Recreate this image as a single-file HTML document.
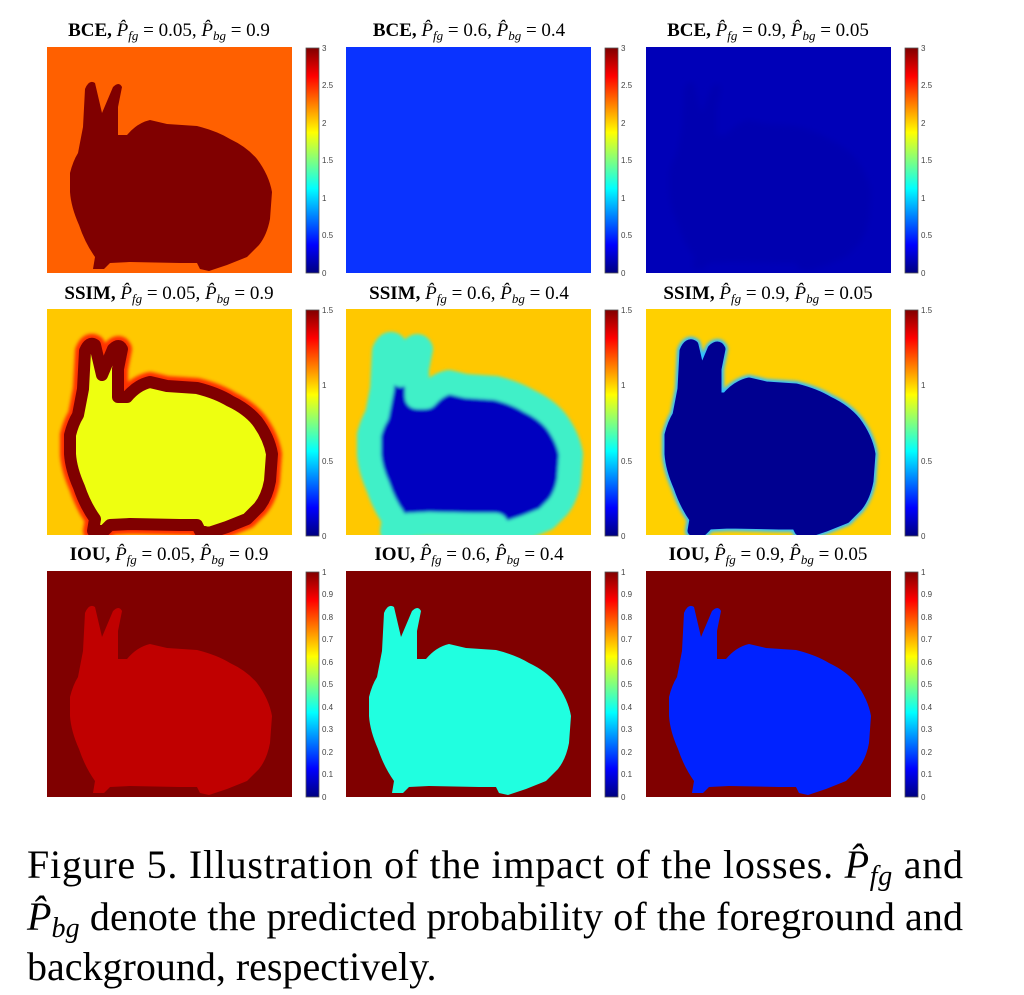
<!DOCTYPE html>
<html><head><meta charset="utf-8"><style>html,body{margin:0;padding:0;background:#fff}svg{display:block}</style></head>
<body>
<svg width="1024" height="995" viewBox="0 0 1024 995" xmlns="http://www.w3.org/2000/svg" font-family="'Liberation Serif',serif">
<defs>
<linearGradient id="jet" x1="0" y1="1" x2="0" y2="0">
<stop offset="0" stop-color="#000080"/><stop offset="0.125" stop-color="#0000ff"/><stop offset="0.375" stop-color="#00ffff"/><stop offset="0.625" stop-color="#ffff00"/><stop offset="0.875" stop-color="#ff0000"/><stop offset="1" stop-color="#800000"/>
</linearGradient>
<path id="b" d="M36,80 L38,42 Q42,32 48,36 L55,66 L66,40 Q72,34 75,40 L71,60 L71,88 L80,88 Q90,76 103,73 L120,77 L150,79 Q170,84 183,92 Q200,100 210,112 Q222,128 225,145 L223,172 Q220,188 212,198 L200,210 L180,218 L162,224 L153,222 L150,216 L133,216 L83,215 L63,216 L57,222 L46,222 L48,210 Q38,196 32,178 Q24,160 23,145 L23,126 Q26,114 31,106 Z"/>
<filter id="bl"><feGaussianBlur stdDeviation="3"/></filter>
<filter id="bl2"><feGaussianBlur stdDeviation="1.5"/></filter>
<clipPath id="pc"><rect width="245" height="226"/></clipPath>
</defs>
<g font-size="19" text-anchor="middle">
<text x="169" y="36"><tspan font-weight="bold">BCE,</tspan><tspan font-style="italic"> P̂</tspan><tspan font-size="13" font-style="italic" dy="4">fg</tspan><tspan dy="-4"> = 0.05, </tspan><tspan font-style="italic">P̂</tspan><tspan font-size="13" font-style="italic" dy="4">bg</tspan><tspan dy="-4"> = 0.9</tspan></text>
<text x="469" y="36"><tspan font-weight="bold">BCE,</tspan><tspan font-style="italic"> P̂</tspan><tspan font-size="13" font-style="italic" dy="4">fg</tspan><tspan dy="-4"> = 0.6, </tspan><tspan font-style="italic">P̂</tspan><tspan font-size="13" font-style="italic" dy="4">bg</tspan><tspan dy="-4"> = 0.4</tspan></text>
<text x="768" y="36"><tspan font-weight="bold">BCE,</tspan><tspan font-style="italic"> P̂</tspan><tspan font-size="13" font-style="italic" dy="4">fg</tspan><tspan dy="-4"> = 0.9, </tspan><tspan font-style="italic">P̂</tspan><tspan font-size="13" font-style="italic" dy="4">bg</tspan><tspan dy="-4"> = 0.05</tspan></text>
<text x="169" y="299"><tspan font-weight="bold">SSIM,</tspan><tspan font-style="italic"> P̂</tspan><tspan font-size="13" font-style="italic" dy="4">fg</tspan><tspan dy="-4"> = 0.05, </tspan><tspan font-style="italic">P̂</tspan><tspan font-size="13" font-style="italic" dy="4">bg</tspan><tspan dy="-4"> = 0.9</tspan></text>
<text x="469" y="299"><tspan font-weight="bold">SSIM,</tspan><tspan font-style="italic"> P̂</tspan><tspan font-size="13" font-style="italic" dy="4">fg</tspan><tspan dy="-4"> = 0.6, </tspan><tspan font-style="italic">P̂</tspan><tspan font-size="13" font-style="italic" dy="4">bg</tspan><tspan dy="-4"> = 0.4</tspan></text>
<text x="768" y="299"><tspan font-weight="bold">SSIM,</tspan><tspan font-style="italic"> P̂</tspan><tspan font-size="13" font-style="italic" dy="4">fg</tspan><tspan dy="-4"> = 0.9, </tspan><tspan font-style="italic">P̂</tspan><tspan font-size="13" font-style="italic" dy="4">bg</tspan><tspan dy="-4"> = 0.05</tspan></text>
<text x="169" y="560"><tspan font-weight="bold">IOU,</tspan><tspan font-style="italic"> P̂</tspan><tspan font-size="13" font-style="italic" dy="4">fg</tspan><tspan dy="-4"> = 0.05, </tspan><tspan font-style="italic">P̂</tspan><tspan font-size="13" font-style="italic" dy="4">bg</tspan><tspan dy="-4"> = 0.9</tspan></text>
<text x="469" y="560"><tspan font-weight="bold">IOU,</tspan><tspan font-style="italic"> P̂</tspan><tspan font-size="13" font-style="italic" dy="4">fg</tspan><tspan dy="-4"> = 0.6, </tspan><tspan font-style="italic">P̂</tspan><tspan font-size="13" font-style="italic" dy="4">bg</tspan><tspan dy="-4"> = 0.4</tspan></text>
<text x="768" y="560"><tspan font-weight="bold">IOU,</tspan><tspan font-style="italic"> P̂</tspan><tspan font-size="13" font-style="italic" dy="4">fg</tspan><tspan dy="-4"> = 0.9, </tspan><tspan font-style="italic">P̂</tspan><tspan font-size="13" font-style="italic" dy="4">bg</tspan><tspan dy="-4"> = 0.05</tspan></text>
</g>
<!-- Row 1 -->
<g transform="translate(47,47)" clip-path="url(#pc)"><rect width="245" height="226" fill="#ff6000"/><use href="#b" fill="#800000"/></g>
<g transform="translate(346,47)" clip-path="url(#pc)"><rect width="245" height="226" fill="#0a33ff"/></g>
<g transform="translate(646,47)" clip-path="url(#pc)"><rect width="245" height="226" fill="#0000b8"/><use href="#b" fill="#0000b0" filter="url(#bl)"/></g>
<!-- Row 2 -->
<g transform="translate(47,309)" clip-path="url(#pc)"><rect width="245" height="226" fill="#ffc800"/><use href="#b" fill="none" stroke="#ff3000" stroke-width="20" stroke-linejoin="round" filter="url(#bl2)"/><use href="#b" fill="#eeff10" stroke="#800000" stroke-width="12" stroke-linejoin="round"/></g>
<g transform="translate(346,309)" clip-path="url(#pc)"><rect width="245" height="226" fill="#ffc800"/><use href="#b" fill="#0000c0" stroke="#40f0c8" stroke-width="24" stroke-linejoin="round" filter="url(#bl2)"/></g>
<g transform="translate(646,309)" clip-path="url(#pc)"><rect width="245" height="226" fill="#ffd000"/><use href="#b" fill="none" stroke="#30c0ff" stroke-width="14" stroke-linejoin="round" filter="url(#bl2)"/><use href="#b" fill="#000090" stroke="#000090" stroke-width="9" stroke-linejoin="round"/></g>
<!-- Row 3 -->
<g transform="translate(47,571)" clip-path="url(#pc)"><rect width="245" height="226" fill="#800000"/><use href="#b" fill="#c00000"/></g>
<g transform="translate(346,571)" clip-path="url(#pc)"><rect width="245" height="226" fill="#800000"/><use href="#b" fill="#20ffe0"/></g>
<g transform="translate(646,571)" clip-path="url(#pc)"><rect width="245" height="226" fill="#800000"/><use href="#b" fill="#0022ff"/></g>
<!-- colorbars -->
<g stroke="#555" stroke-width="0.8" fill="url(#jet)">
<rect x="306" y="48" width="13" height="225"/><rect x="605" y="48" width="13" height="225"/><rect x="905" y="48" width="13" height="225"/>
<rect x="306" y="310" width="13" height="226"/><rect x="605" y="310" width="13" height="226"/><rect x="905" y="310" width="13" height="226"/>
<rect x="306" y="572" width="13" height="225"/><rect x="605" y="572" width="13" height="225"/><rect x="905" y="572" width="13" height="225"/>
</g>
<g font-family="'Liberation Sans',sans-serif" font-size="8" fill="#444">
<g id="t1"><text x="322" y="51">3</text><text x="322" y="88">2.5</text><text x="322" y="126">2</text><text x="322" y="163">1.5</text><text x="322" y="201">1</text><text x="322" y="238">0.5</text><text x="322" y="276">0</text></g>
<use href="#t1" x="299"/><use href="#t1" x="599"/>
<g id="t2"><text x="322" y="313">1.5</text><text x="322" y="388">1</text><text x="322" y="464">0.5</text><text x="322" y="539">0</text></g>
<use href="#t2" x="299"/><use href="#t2" x="599"/>
<g id="t3"><text x="322" y="575">1</text><text x="322" y="597">0.9</text><text x="322" y="620">0.8</text><text x="322" y="642">0.7</text><text x="322" y="665">0.6</text><text x="322" y="687">0.5</text><text x="322" y="710">0.4</text><text x="322" y="732">0.3</text><text x="322" y="755">0.2</text><text x="322" y="777">0.1</text><text x="322" y="800">0</text></g>
<use href="#t3" x="299"/><use href="#t3" x="599"/>
</g>
<!-- caption -->
<g font-size="40" fill="#000">
<text x="27" y="878" textLength="936" lengthAdjust="spacing">Figure 5.  Illustration of the impact of the losses.  <tspan font-style="italic">P̂</tspan><tspan font-style="italic" font-size="28" dy="7">fg</tspan><tspan dy="-7"> and</tspan></text>
<text x="27" y="930" textLength="936" lengthAdjust="spacing"><tspan font-style="italic">P̂</tspan><tspan font-style="italic" font-size="28" dy="7">bg</tspan><tspan dy="-7"> denote the predicted probability of the foreground and</tspan></text>
<text x="27" y="980">background, respectively.</text>
</g>
</svg>
</body></html>
